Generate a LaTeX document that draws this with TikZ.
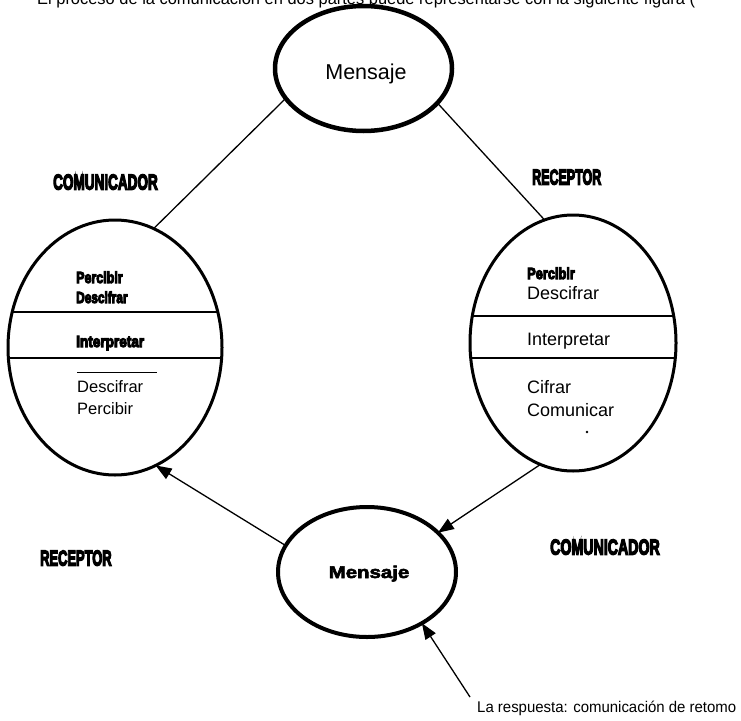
\documentclass[tikz,border=0pt]{standalone}
\usepackage{fontspec}
\usepackage{graphicx}
\setmainfont{Liberation Sans}
\newfontfamily\heavyfont{Liberation Sans}[FakeBold=7, BoldFeatures={FakeBold=7}]
\newfontfamily\boldishfont{Liberation Sans}[FakeBold=3, BoldFeatures={FakeBold=3}]
\usetikzlibrary{shapes.geometric,arrows.meta}

\newcommand\squeezed[2]{\scalebox{#1}[1]{#2}}

\tikzset{
  bubble/.style={ellipse, draw, inner sep=0pt, outer sep=0pt},
  link/.style={line width=1.3pt},
  flow/.style={line width=1.3pt, -{Triangle[length=16pt,width=12pt]}},
  role/.style={anchor=base west, inner sep=0pt,
    font=\heavyfont\bfseries\fontsize{21.5}{21.5}\selectfont},
  heavytxt/.style={anchor=base west, inner sep=0pt,
    font=\heavyfont\bfseries\fontsize{16}{16}\selectfont},
  lefttxt/.style={anchor=base west, inner sep=0pt,
    font=\fontsize{16.5}{16.5}\selectfont},
  righttxt/.style={anchor=base west, inner sep=0pt,
    font=\fontsize{18}{18}\selectfont},
  band/.style={line width=1.8pt},
}

\begin{document}
\begin{tikzpicture}[x=1pt, y=-1pt]
\useasboundingbox[fill=white] (0,0) rectangle (741,720);

% caption line, cut by the top edge of the page
\node[anchor=base west, inner sep=0pt, font=\fontsize{17}{17}\selectfont] (caption) at (37,5)
  {\resizebox{658pt}{\height}{El proceso de la comunicación en dos partes puede representarse con la siguiente figura (}};

% the four ellipses
\node[bubble, line width=4.5pt, minimum width=177pt, minimum height=125pt] (T) at (363.5,68.5) {};
\node[bubble, line width=3pt, minimum width=214pt, minimum height=255pt] (L) at (115,347.5) {};
\node[bubble, line width=3pt, minimum width=206pt, minimum height=256pt] (R) at (573,343) {};
\node[bubble, line width=4pt, minimum width=178pt, minimum height=130pt] (B) at (367,572) {};

% bands inside the side ellipses
\begin{scope}
  \clip (L.center) ellipse [x radius=107pt, y radius=127.5pt];
  \draw[band] (0,312) -- (250,312);
  \draw[band] (0,358) -- (250,358);
\end{scope}
\begin{scope}
  \clip (R.center) ellipse [x radius=103pt, y radius=128pt];
  \draw[band] (450,316) -- (700,316);
  \draw[band] (450,358) -- (700,358);
\end{scope}
\draw[line width=1pt] (77,372) -- (157,372);
\fill (587,432) circle (1.3pt);

% message labels
\node[anchor=base, inner sep=0pt, font=\fontsize{21.5}{21.5}\selectfont] (tmsg) at (366,79.7) {Mensaje};
\node[anchor=base, inner sep=0pt, font=\boldishfont\bfseries\fontsize{17}{17}\selectfont] (bmsg) at (369,578) {\squeezed{1.2}{Mensaje}};

% roles
\node[role] (com1) at (53,189.5) {\squeezed{0.63}{COMUNICADOR}};
\node[role] (rec1) at (532,184.5) {\squeezed{0.58}{RECEPTOR}};
\node[role] (rec2) at (40,565.5) {\squeezed{0.6}{RECEPTOR}};
\node[role] (com2) at (550,554.5) {\squeezed{0.66}{COMUNICADOR}};

% left ellipse texts
\node[heavytxt] (l1) at (76,283) {\squeezed{0.78}{Percibir}};
\node[heavytxt] (l2) at (76,303) {\squeezed{0.74}{Descifrar}};
\node[heavytxt] (l3) at (76,347) {\squeezed{0.85}{Interpretar}};
\node[lefttxt] (l4) at (77,392) {Descifrar};
\node[lefttxt] (l5) at (77,414) {Percibir};

% right ellipse texts
\node[heavytxt] (r1) at (527,279) {\squeezed{0.8}{Percibir}};
\node[righttxt] (r2) at (527,299.5) {Descifrar};
\node[righttxt] (r3) at (527,345.5) {Interpretar};
\node[righttxt] (r4) at (527,393.5) {Cifrar};
\node[righttxt] (r5) at (527,416.5) {Comunicar};

% feedback note
\node[anchor=base west, inner sep=0pt, font=\fontsize{15.5}{15.5}\selectfont] (note) at (477,712.5)
  {\resizebox{259pt}{\height}{La respuesta: comunicación de retomo}};
\coordinate (noteend) at (470,697);

% connectors
\draw[link] (T.201.7) -- (L.72.9);
\draw[link] (T.335.7) -- (R.103.7);
\draw[flow] (R.255.7) -- (B.29.7);
\draw[flow] (B.162.2) -- (L.289.3);
\draw[flow] (noteend) -- (B.317.6);
\end{tikzpicture}
\end{document}
